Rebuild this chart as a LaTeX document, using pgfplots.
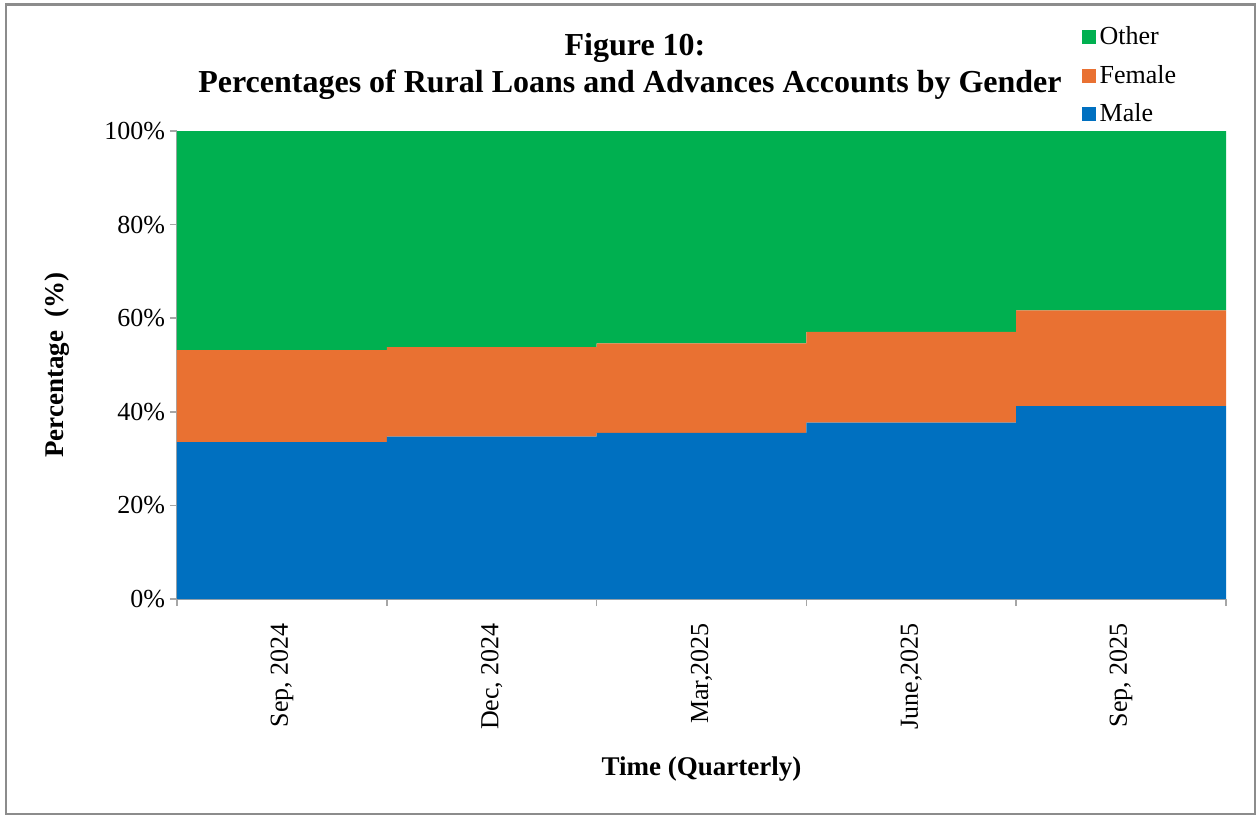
\documentclass[border=0pt]{standalone}
\usepackage{pgfplots}
\pgfplotsset{compat=1.18}
\usepackage{pgfplotstable}
\usepackage{fontspec}
\setmainfont{Liberation Serif}

\definecolor{malec}{HTML}{0070C0}
\definecolor{femalec}{HTML}{E97132}
\definecolor{otherc}{HTML}{00B050}
\definecolor{axisgray}{HTML}{A6A6A6}
\definecolor{framegray}{HTML}{8C8C8C}

% share of accounts, percent
\pgfplotstableread{
q male female other
0 33.5 19.7 46.8
1 34.7 19.1 46.2
2 35.5 19.1 45.4
3 37.7 19.4 42.9
4 41.2 20.5 38.3
}\shares

\begin{document}
\begin{tikzpicture}
\useasboundingbox (-88.5pt,-108.5pt) rectangle (540.5pt,299.5pt);
\draw[framegray, line width=1.2pt] (-85.5pt,-107.5pt) rectangle (539pt,297.25pt);
\begin{axis}[
    at={(0pt,0pt)}, anchor=south west,
    width=524.5pt, height=234pt, scale only axis,
    ybar stacked, bar width=1,
    xmin=-0.5, xmax=4.5, ymin=0, ymax=100,
    axis x line*=bottom, axis y line*=left,
    axis line style={axisgray, line width=0.8pt},
    tick align=outside, major tick length=3.5pt,
    tick style={axisgray, line width=0.8pt},
    xtick={-0.5,0.5,1.5,2.5,3.5,4.5}, xticklabels={},
    extra x ticks={0,1,2,3,4},
    extra x tick labels={{Sep, 2024},{Dec, 2024},{Mar,2025},{June,2025},{Sep, 2025}},
    extra x tick style={major tick length=0pt,
        xticklabel style={yshift=-8.5pt, rotate=90, anchor=east}},
    xticklabel style={font=\fontsize{13}{15}\selectfont},
    ytick={0,20,...,100},
    yticklabels={0\%,20\%,40\%,60\%,80\%,100\%},
    yticklabel style={font=\fontsize{13}{15}\selectfont, xshift=1pt},
    reverse legend,
    legend cell align=left,
    legend style={at={(axis description cs:0.862,1.233)}, anchor=north west,
        draw=none, fill=none, inner sep=0pt, row sep=4.8pt,
        font=\fontsize{13}{15}\selectfont},
    legend image code/.code={\fill[#1] (0pt,-3.5pt) rectangle (7pt,3.5pt);},
]
\addplot[fill=malec, draw=none] table[x=q, y=male] {\shares};
\addlegendentry{Male}
\addplot[fill=femalec, draw=none] table[x=q, y=female] {\shares};
\addlegendentry{Female}
\addplot[fill=otherc, draw=none] table[x=q, y=other] {\shares};
\addlegendentry{Other}
\end{axis}
\node[font=\bfseries\fontsize{16}{19}\selectfont, anchor=base] at (229pt,272pt) {Figure 10:};
\node[font=\bfseries\fontsize{16}{19}\selectfont, anchor=base] at (226.5pt,253.5pt)
    {Percentages of Rural Loans and Advances Accounts by Gender};
\node[font=\bfseries\fontsize{13.5}{16}\selectfont, anchor=base] at (262.25pt,-88pt) {Time (Quarterly)};
\node[font=\bfseries\fontsize{13.5}{16}\selectfont, anchor=base, rotate=90] at (-56.5pt,117pt) {Percentage\ \ (\%)};
\end{tikzpicture}
\end{document}
